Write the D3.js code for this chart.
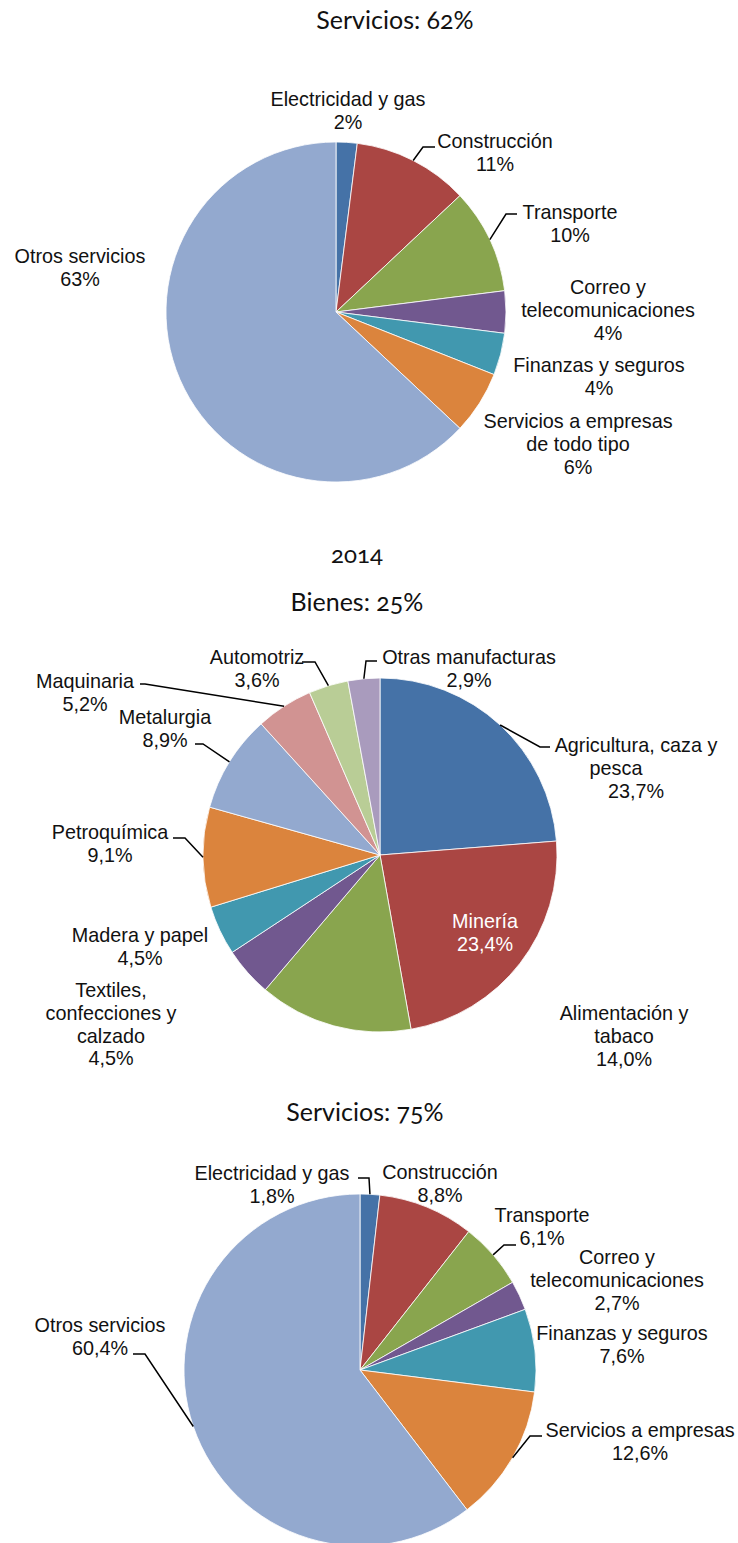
<!DOCTYPE html>
<html lang="es">
<head>
<meta charset="utf-8">
<title>Composición sectorial 2014</title>
<script src="https://cdn.jsdelivr.net/npm/d3@7/dist/d3.min.js"></script>
<style>
  html, body { margin: 0; padding: 0; background: #fff; }
  svg { display: block; }
  .title { font-family: Lato, "Open Sans", sans-serif; font-variant-numeric: oldstyle-nums; fill: #111; }
  .lbl { font-family: "Liberation Sans", Arial, sans-serif; font-size: 19.8px; fill: #111; }
  .leader { fill: none; stroke: #000; stroke-width: 1.5; }
</style>
</head>
<body>
<svg id="chart" width="738" height="1543"></svg>
<script>
// ---- Servicios (top chart) ----
const serv1Categories = ["Electricidad y gas", "Construcción", "Transporte", "Correo y telecomunicaciones",
  "Finanzas y seguros", "Servicios a empresas de todo tipo", "Otros servicios"];
const serv1Values = [2, 11, 10, 4, 4, 6, 63];

// ---- Bienes ----
const bienesCategories = ["Agricultura, caza y pesca", "Minería", "Alimentación y tabaco",
  "Textiles, confecciones y calzado", "Madera y papel", "Petroquímica", "Metalurgia",
  "Maquinaria", "Automotriz", "Otras manufacturas"];
const bienesValues = [23.7, 23.4, 14.0, 4.5, 4.5, 9.1, 8.9, 5.2, 3.6, 2.9];

// ---- Servicios (bottom chart) ----
const serv2Categories = ["Electricidad y gas", "Construcción", "Transporte", "Correo y telecomunicaciones",
  "Finanzas y seguros", "Servicios a empresas", "Otros servicios"];
const serv2Values = [1.8, 8.8, 6.1, 2.7, 7.6, 12.6, 60.4];

// Titles
const titleTexts = ["Servicios: 62%", "2014", "Bienes: 25%", "Servicios: 75%"];

// Slice palette
const servColors = ["#4572a7", "#aa4643", "#89a54e", "#71588f", "#4198af", "#db843d", "#93a9cf"];
const bienesColors = ["#4572a7", "#aa4643", "#89a54e", "#71588f", "#4198af", "#db843d",
  "#93a9cf", "#d19392", "#b9cd96", "#a99bbd"];

// Label line wrapping, placement and leader elbows
const serv1Layout = {
  cx: 336, cy: 312, r: 170, digits: 0,
  labels: [
    { lines: ["Electricidad y gas"], x: 348, y: 99 },
    { lines: ["Construcción"], x: 495, y: 141, elbow: [423, 147], end: 435 },
    { lines: ["Transporte"], x: 570, y: 212, elbow: [506, 214], end: 517 },
    { lines: ["Correo y", "telecomunicaciones"], x: 608, y: 287 },
    { lines: ["Finanzas y seguros"], x: 599, y: 365 },
    { lines: ["Servicios a empresas", "de todo tipo"], x: 578, y: 421 },
    { lines: ["Otros servicios"], x: 80, y: 256 }
  ]
};
const bienesLayout = {
  cx: 380, cy: 855, r: 177, digits: 1,
  labels: [
    { lines: ["Agricultura, caza y", "pesca"], x: 636, y: 745, dx: [0, -20, 0], elbow: [540, 747], end: 550 },
    { lines: ["Minería"], x: 485, y: 921, inside: true },
    { lines: ["Alimentación y", "tabaco"], x: 624, y: 1013 },
    { lines: ["Textiles,", "confecciones y", "calzado"], x: 111, y: 990 },
    { lines: ["Madera y papel"], x: 140, y: 935 },
    { lines: ["Petroquímica"], x: 110, y: 832, elbow: [185, 838], end: 173 },
    { lines: ["Metalurgia"], x: 165, y: 717, elbow: [203, 744], end: 195 },
    { lines: ["Maquinaria"], x: 85, y: 681, elbow: [145, 684], end: 140 },
    { lines: ["Automotriz"], x: 257, y: 657, elbow: [315, 662], end: 302 },
    { lines: ["Otras manufacturas"], x: 469, y: 657, elbow: [366, 661], end: 377 }
  ]
};
const serv2Layout = {
  cx: 360, cy: 1370, r: 176, digits: 1,
  labels: [
    { lines: ["Electricidad y gas"], x: 272, y: 1173, elbow: [369, 1178], end: 358 },
    { lines: ["Construcción"], x: 440, y: 1172 },
    { lines: ["Transporte"], x: 542, y: 1215, elbow: [504, 1245], end: 516 },
    { lines: ["Correo y", "telecomunicaciones"], x: 617, y: 1257 },
    { lines: ["Finanzas y seguros"], x: 622, y: 1333 },
    { lines: ["Servicios a empresas"], x: 640, y: 1430, elbow: [530, 1436], end: 542 },
    { lines: ["Otros servicios"], x: 100, y: 1325, elbow: [145, 1354], end: 133 }
  ]
};

const esLocale = d3.formatLocale({ decimal: ",", thousands: ".", grouping: [3], currency: ["", "€"] });
const LINE_H = 22.8;

const svg = d3.select("#chart");

function drawPie(categories, values, colors, layout) {
  const g = svg.append("g");
  const pie = d3.pie().value(d => d).sort(null);
  const arcs = pie(values);
  const arc = d3.arc().innerRadius(0).outerRadius(layout.r);
  const color = d3.scaleOrdinal().domain(categories).range(colors);
  const fmt = esLocale.format("." + layout.digits + "f");

  g.selectAll("path.slice")
    .data(arcs)
    .join("path")
    .attr("class", "slice")
    .attr("transform", `translate(${layout.cx},${layout.cy})`)
    .attr("d", arc)
    .attr("fill", (d, i) => color(categories[i]))
    .attr("stroke", "#fff")
    .attr("stroke-width", 0.8);

  arcs.forEach((a, i) => {
    const L = layout.labels[i];
    const mid = (a.startAngle + a.endAngle) / 2;
    if (L.elbow) {
      const px = layout.cx + layout.r * Math.sin(mid);
      const py = layout.cy - layout.r * Math.cos(mid);
      g.append("path")
        .attr("class", "leader")
        .attr("d", d3.line()([[px, py], L.elbow, [L.end, L.elbow[1]]]));
    }
    const lines = L.lines.concat([fmt(values[i]) + "%"]);
    const t = g.append("text")
      .attr("class", "lbl")
      .attr("text-anchor", "middle")
      .style("fill", L.inside ? "#fff" : "#111");
    lines.forEach((s, k) => {
      t.append("tspan")
        .attr("x", L.x + (L.dx ? L.dx[k] : 0))
        .attr("y", L.y + k * LINE_H + 7)
        .text(s);
    });
  });
}

drawPie(serv1Categories, serv1Values, servColors, serv1Layout);
drawPie(bienesCategories, bienesValues, bienesColors, bienesLayout);
drawPie(serv2Categories, serv2Values, servColors, serv2Layout);

// Chart titles
const titlePos = [[395, 20, 25], [357, 555, 24], [357, 602, 25], [365, 1112, 25]];
titleTexts.forEach((s, i) => {
  svg.append("text")
    .attr("class", "title")
    .attr("x", titlePos[i][0])
    .attr("y", titlePos[i][1] + titlePos[i][2] * 0.34)
    .attr("text-anchor", "middle")
    .style("font-size", titlePos[i][2] + "px")
    .text(s);
});
</script>
</body>
</html>
